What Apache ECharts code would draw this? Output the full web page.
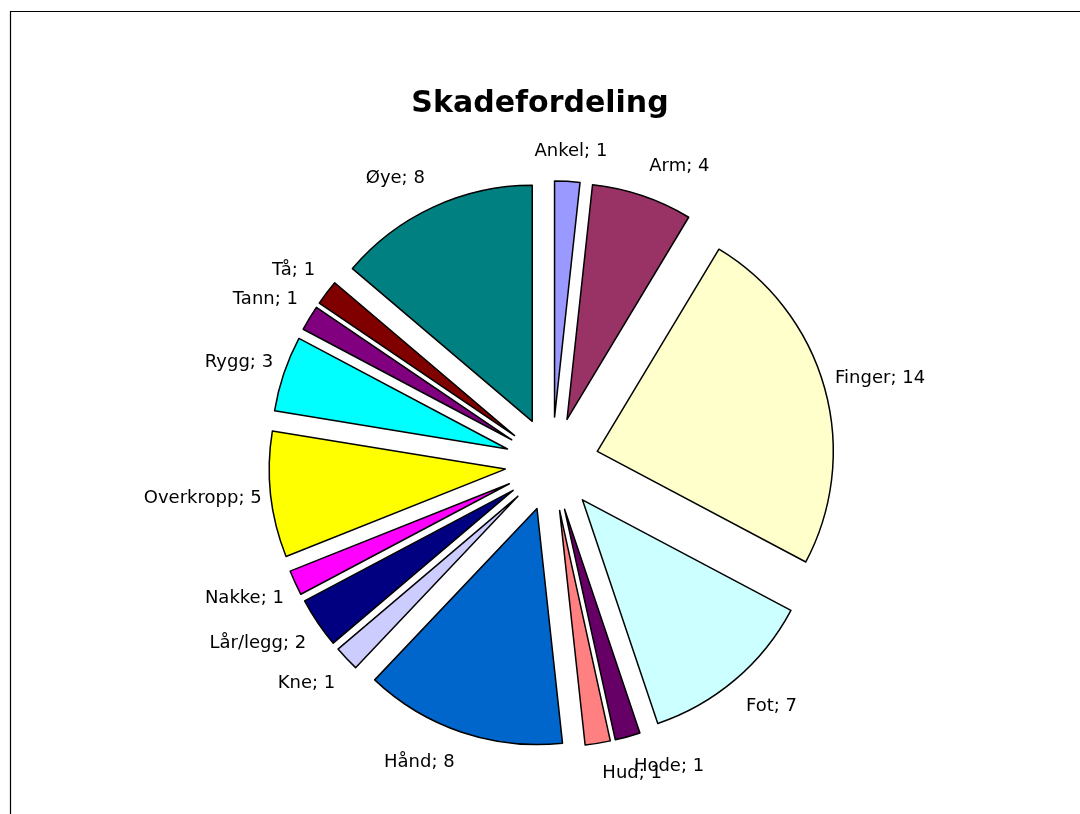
<!DOCTYPE html>
<html>
<head>
<meta charset="utf-8">
<script src="https://cdn.jsdelivr.net/npm/echarts@6/dist/echarts.min.js"></script>
<style>
html,body{margin:0;padding:0;background:#fff;}
#chart{width:1080px;height:814px;}
</style>
</head>
<body>
<div id="chart"></div>
<script>
const categories = ['Ankel','Arm','Finger','Fot','Hode','Hud','Hånd','Kne','Lår/legg','Nakke','Overkropp','Rygg','Tann','Tå','Øye'];
const values = [1,4,14,7,1,1,8,1,2,1,5,3,1,1,8];
const colors = ['#9999FF','#993366','#FFFFCC','#CCFFFF','#660066','#FF8080','#0066CC','#CCCCFF','#000080','#FF00FF','#FFFF00','#00FFFF','#800080','#800000','#008080'];

const total = values.reduce((a,b)=>a+b,0);
let cum = 0;
const mids = [];
const data = categories.map((name,i)=>{
  const mid = (cum + values[i]/2) / total * 2 * Math.PI;
  mids.push(mid);
  cum += values[i];
  const len = 6 + 24*Math.abs(Math.cos(mid));
  return {
    name: name,
    value: values[i],
    selected: true,
    itemStyle: {color: colors[i]},
    labelLine: {show:false, length: len, length2: 0}
  };
});

const chart = echarts.init(document.getElementById('chart'));
chart.setOption({
  animation: false,
  backgroundColor: '#fff',
  title: {
    text: 'Skadefordeling',
    left: 535, top: 84, textAlign: 'center',
    textStyle: {fontFamily: 'DejaVu Sans', fontWeight: 'bold', fontSize: 30, color: '#000'}
  },
  graphic: [{
    type: 'rect', silent: true,
    shape: {x: 10.5, y: 11.5, width: 1200, height: 1000},
    style: {fill: 'none', stroke: '#000', lineWidth: 1.2}
  }],
  series: [{
    type: 'pie',
    center: [552, 464],
    radius: 236,
    startAngle: 90,
    clockwise: true,
    selectedMode: 'multiple',
    selectedOffset: 47,
    avoidLabelOverlap: false,
    emphasis: {disabled: true},
    itemStyle: {borderColor: '#000', borderWidth: 1.5},
    select: {itemStyle: {borderColor: '#000', borderWidth: 1.5}},
    label: {
      show: true, position: 'outside',
      formatter: p => p.name + '; ' + p.value,
      fontFamily: 'DejaVu Sans', fontSize: 18, color: '#000',
      distanceToLabelLine: 2
    },
    labelLine: {show: false},
    labelLayout: function (p) {
      const t = mids[p.dataIndex];
      const s = Math.sin(t), c = Math.cos(t);
      let dx;
      if (Math.abs(s) < 0.1) dx = -(s >= 0 ? 1 : -1) * p.labelRect.width / 2;
      else dx = -s * 14 * Math.abs(c);
      const dy = -c * 25 * s * s;
      return {dx: dx, dy: dy, hideOverlap: false};
    },
    data: data
  }]
});
</script>
</body>
</html>
